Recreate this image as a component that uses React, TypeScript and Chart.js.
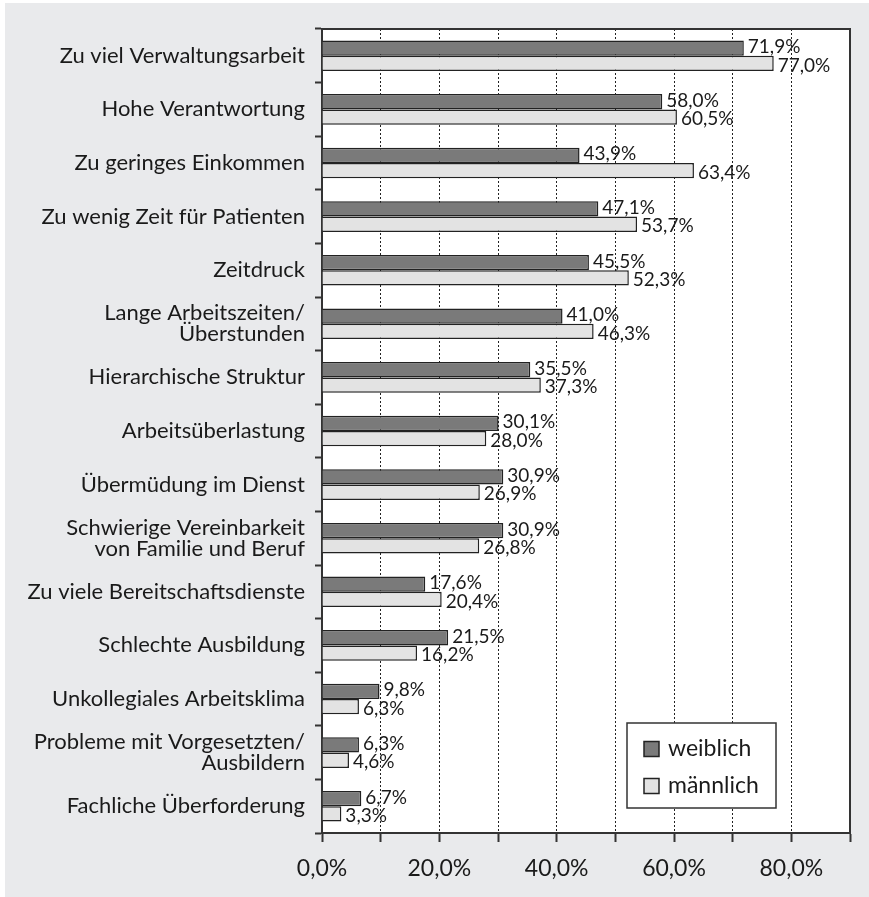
import React, { useEffect, useRef } from 'react';
import { Chart, registerables } from 'chart.js';

Chart.register(...registerables);

const categories: (string | string[])[] = [
  'Zu viel Verwaltungsarbeit',
  'Hohe Verantwortung',
  'Zu geringes Einkommen',
  'Zu wenig Zeit für Patienten',
  'Zeitdruck',
  ['Lange Arbeitszeiten/', 'Überstunden'],
  'Hierarchische Struktur',
  'Arbeitsüberlastung',
  'Übermüdung im Dienst',
  ['Schwierige Vereinbarkeit', 'von Familie und Beruf'],
  'Zu viele Bereitschaftsdienste',
  'Schlechte Ausbildung',
  'Unkollegiales Arbeitsklima',
  ['Probleme mit Vorgesetzten/', 'Ausbildern'],
  'Fachliche Überforderung',
];

const weiblich = [71.9, 58.0, 43.9, 47.1, 45.5, 41.0, 35.5, 30.1, 30.9, 30.9, 17.6, 21.5, 9.8, 6.3, 6.7];
const maennlich = [77.0, 60.5, 63.4, 53.7, 52.3, 46.3, 37.3, 28.0, 26.9, 26.8, 20.4, 16.2, 6.3, 4.6, 3.3];

const seriesNames = ['weiblich', 'männlich'];
const seriesColors = ['#7a7a7a', '#e3e3e3'];

const xMin = 0;
const xMax = 90;
const xStep = 10;
const xLabelStep = 20;

const FONT = 'Lato, "Noto Sans", sans-serif';
const INK = '#333333';

const fmt = (v: number) => v.toFixed(1).replace('.', ',') + '%';

export default function App() {
  const ref = useRef<HTMLCanvasElement>(null);

  useEffect(() => {
    if (!ref.current) return;

    const decor = {
      id: 'decor',
      beforeDraw(chart: any) {
        const { ctx, width, height, chartArea: a } = chart;
        ctx.save();
        ctx.fillStyle = '#ffffff';
        ctx.fillRect(0, 0, width, height);
        ctx.fillStyle = '#e9eaec';
        ctx.fillRect(5, 3, width - 5, height - 3);
        ctx.fillStyle = '#ffffff';
        ctx.fillRect(a.left, a.top, a.right - a.left, a.bottom - a.top);
        ctx.restore();
      },
      afterDatasetsDraw(chart: any) {
        const { ctx } = chart;
        ctx.save();
        ctx.font = `19px ${FONT}`;
        ctx.fillStyle = '#1a1a1a';
        ctx.textAlign = 'left';
        ctx.textBaseline = 'middle';
        chart.data.datasets.forEach((ds: any, di: number) => {
          const meta = chart.getDatasetMeta(di);
          meta.data.forEach((el: any, i: number) => {
            const off = di === 0 ? -1 : 2;
            ctx.fillText(fmt(ds.data[i]), el.x + 4, el.y + off);
          });
        });
        ctx.restore();
      },
      afterDraw(chart: any) {
        const { ctx, chartArea: a } = chart;
        ctx.save();
        ctx.strokeStyle = INK;
        ctx.lineWidth = 2;
        ctx.beginPath();
        ctx.moveTo(a.left, a.top);
        ctx.lineTo(a.right, a.top);
        ctx.lineTo(a.right, a.bottom);
        ctx.stroke();

        const bx = a.right - 223;
        const by = a.bottom - 110;
        const bw = 149;
        const bh = 85;
        ctx.fillStyle = '#ffffff';
        ctx.fillRect(bx, by, bw, bh);
        ctx.lineWidth = 1.5;
        ctx.strokeStyle = INK;
        ctx.strokeRect(bx, by, bw, bh);
        ctx.font = `23px ${FONT}`;
        ctx.textAlign = 'left';
        ctx.textBaseline = 'middle';
        chart.data.datasets.forEach((ds: any, di: number) => {
          const cy = by + 26 + di * 37;
          ctx.fillStyle = ds.backgroundColor;
          ctx.fillRect(bx + 17, cy - 7.5, 15, 15);
          ctx.lineWidth = 1.5;
          ctx.strokeStyle = '#222';
          ctx.strokeRect(bx + 17, cy - 7.5, 15, 15);
          ctx.fillStyle = '#1a1a1a';
          ctx.fillText(ds.label, bx + 41, cy);
        });
        ctx.restore();
      },
    };

    const chart = new Chart(ref.current, {
      type: 'bar',
      data: {
        labels: categories,
        datasets: [
          {
            label: seriesNames[0],
            data: weiblich,
            backgroundColor: seriesColors[0],
            borderColor: '#222222',
            borderWidth: 1.5,
            categoryPercentage: 0.57,
            barPercentage: 1,
          },
          {
            label: seriesNames[1],
            data: maennlich,
            backgroundColor: seriesColors[1],
            borderColor: '#222222',
            borderWidth: 1.5,
            categoryPercentage: 0.57,
            barPercentage: 1,
          },
        ],
      },
      options: {
        indexAxis: 'y',
        responsive: false,
        animation: false,
        layout: { padding: { top: 29, right: 19, bottom: 0, left: 0 } },
        plugins: {
          legend: { display: false },
          tooltip: { enabled: false },
        },
        scales: {
          x: {
            type: 'linear',
            min: xMin,
            max: xMax,
            afterFit: (s: any) => {
              s.height = 64;
            },
            ticks: {
              stepSize: xStep,
              autoSkip: false,
              maxRotation: 0,
              padding: 13,
              color: '#1a1a1a',
              font: { family: FONT, size: 23 },
              callback: (v: any) => (Number(v) % xLabelStep === 0 ? fmt(Number(v)) : ''),
            },
            grid: {
              color: (c: any) =>
                c.tick && (c.tick.value === xMin || c.tick.value === xMax) ? 'rgba(0,0,0,0)' : '#222222',
              lineWidth: 1,
              drawTicks: true,
              tickLength: 9,
              tickColor: INK,
              tickWidth: 2,
              tickBorderDash: [],
            } as any,
            border: { display: true, color: INK, width: 2, dash: [2, 2] },
          },
          y: {
            type: 'category',
            offset: true,
            afterFit: (s: any) => {
              s.width = 322;
            },
            ticks: {
              autoSkip: false,
              padding: 10,
              color: '#1a1a1a',
              font: { family: FONT, size: 22, lineHeight: 0.95 },
            },
            grid: {
              offset: true,
              drawOnChartArea: false,
              drawTicks: true,
              tickLength: 7,
              tickColor: INK,
              tickWidth: 2,
            },
            border: { display: true, color: INK, width: 2 },
          },
        },
      },
      plugins: [decor],
    } as any);

    return () => chart.destroy();
  }, []);

  return (
    <div style={{ position: 'absolute', left: 0, top: 0, width: 869, height: 897 }}>
      <canvas ref={ref} width={869} height={897} />
    </div>
  );
}
